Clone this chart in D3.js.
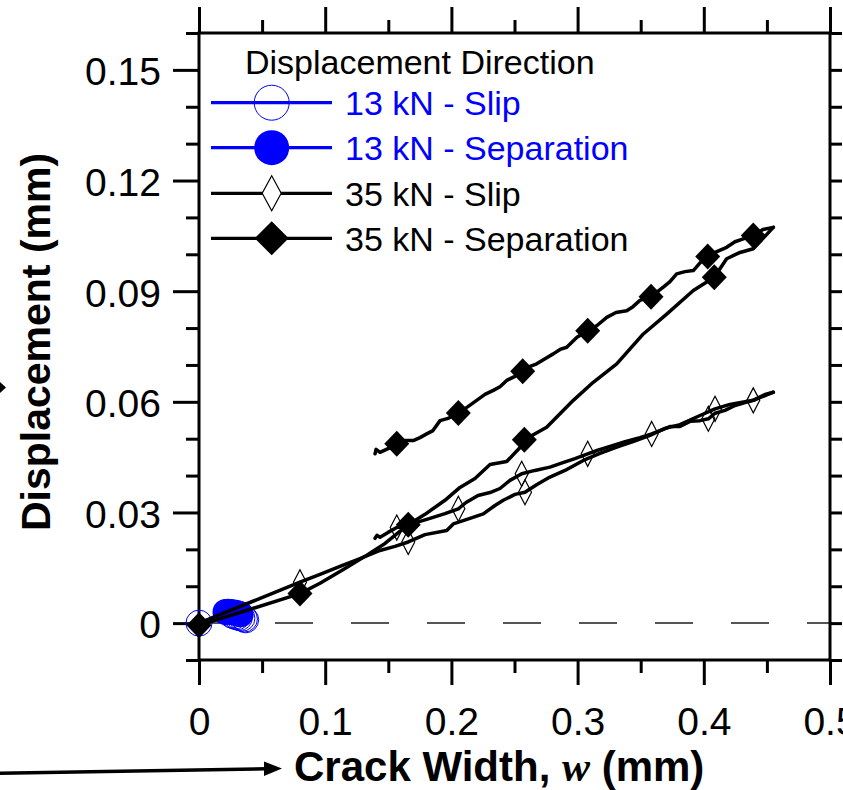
<!DOCTYPE html>
<html><head><meta charset="utf-8">
<script src="https://cdn.jsdelivr.net/npm/d3@7"></script>
<style>body{margin:0;background:#fff} svg{display:block}</style>
</head><body><svg id="c" width="843" height="790"></svg>
<script>
// ---------- tick values ----------
const xTickValues = [0, 0.1, 0.2, 0.3, 0.4, 0.5];
const xMinorTicks = [0.05, 0.15, 0.25, 0.35, 0.45];
const yTickValues = [0, 0.03, 0.06, 0.09, 0.12, 0.15];
const yMinorTicks = [-0.01, 0.01, 0.02, 0.04, 0.05, 0.07, 0.08, 0.10, 0.11, 0.13, 0.14, 0.16];
const yRightTicks = [-0.01, 0, 0.01, 0.02, 0.03, 0.04, 0.05, 0.06, 0.07, 0.08, 0.09, 0.10, 0.11, 0.12, 0.13, 0.14, 0.15, 0.16];

// ---------- legend ----------
const legendTitle = "Displacement Direction";
const legendLabels = ["13 kN - Slip", "13 kN - Separation", "35 kN - Slip", "35 kN - Separation"];

// ---------- data: [crack width w (mm), displacement (mm)] ----------
const slip13 = [[0, 0], [0.026, 0.0022], [0.028, 0.0019], [0.030, 0.0017], [0.032, 0.0015], [0.034, 0.0013], [0.036, 0.0011], [0.037, 0.0009]];
const sep13 = [[0, 0], [0.021, 0.0030], [0.023, 0.0031], [0.025, 0.0030], [0.027, 0.0029], [0.029, 0.0028], [0.031, 0.0026], [0.033, 0.0024]];

const slip35Load = [[0,0],[0.0800,0.0111],[0.0959,0.0132],[0.1117,0.0154],[0.1276,0.0175],[0.1434,0.0197],[0.1553,0.0208],[0.1658,0.0220],[0.1791,0.0240],[0.1963,0.0251],[0.2015,0.0269],[0.2147,0.0284],[0.2253,0.0296],[0.2345,0.0319],[0.2411,0.0333],[0.2504,0.0349],[0.2583,0.0355],[0.2678,0.0376],[0.2781,0.0396],[0.2900,0.0414],[0.3045,0.0441],[0.3177,0.0460],[0.3310,0.0477],[0.3439,0.0492],[0.3574,0.0509],[0.3693,0.0528],[0.3811,0.0538],[0.3970,0.0563],[0.4089,0.0581],[0.4207,0.0593],[0.4392,0.0604],[0.4485,0.0617],[0.4551,0.0626]];
const slip35Unload = [[0.4551,0.0626],[0.4485,0.0620],[0.4392,0.0604],[0.4326,0.0598],[0.4247,0.0590],[0.4168,0.0577],[0.4089,0.0569],[0.4036,0.0554],[0.3970,0.0549],[0.3891,0.0547],[0.3811,0.0533],[0.3732,0.0533],[0.3653,0.0522],[0.3587,0.0513],[0.3494,0.0503],[0.3376,0.0492],[0.3257,0.0479],[0.3154,0.0468],[0.3080,0.0459],[0.2979,0.0446],[0.2884,0.0435],[0.2781,0.0423],[0.2662,0.0414],[0.2557,0.0405],[0.2464,0.0387],[0.2385,0.0365],[0.2306,0.0354],[0.2211,0.0346],[0.2116,0.0327],[0.2055,0.0310],[0.1949,0.0297],[0.1830,0.0284],[0.1725,0.0273],[0.1632,0.0262],[0.1567,0.0259],[0.1498,0.0246],[0.1434,0.0233],[0.1410,0.0238],[0.1395,0.0230]];
const sep35Load = [[0,-0.0006],[0.0800,0.0080],[0.0959,0.0108],[0.1157,0.0148],[0.1315,0.0181],[0.1474,0.0216],[0.1658,0.0267],[0.1791,0.0295],[0.1949,0.0333],[0.2068,0.0368],[0.2187,0.0392],[0.2306,0.0430],[0.2438,0.0438],[0.2544,0.0476],[0.2578,0.0497],[0.2755,0.0531],[0.2966,0.0604],[0.3124,0.0653],[0.3310,0.0703],[0.3521,0.0784],[0.3706,0.0838],[0.3917,0.0902],[0.4083,0.0938],[0.4181,0.0988],[0.4287,0.1005],[0.4392,0.1015],[0.4551,0.1073]];
const sep35Unload = [[0.4551,0.1073],[0.4469,0.1067],[0.4392,0.1051],[0.4313,0.1042],[0.4247,0.1034],[0.4181,0.1019],[0.4089,0.1005],[0.4031,0.0994],[0.3970,0.0977],[0.3917,0.0956],[0.3851,0.0953],[0.3785,0.0947],[0.3732,0.0926],[0.3679,0.0911],[0.3582,0.0885],[0.3494,0.0875],[0.3439,0.0858],[0.3389,0.0847],[0.3304,0.0842],[0.3231,0.0829],[0.3154,0.0807],[0.3080,0.0793],[0.2995,0.0775],[0.2914,0.0748],[0.2861,0.0742],[0.2807,0.0730],[0.2742,0.0717],[0.2676,0.0703],[0.2623,0.0696],[0.2565,0.0683],[0.2504,0.0669],[0.2438,0.0658],[0.2385,0.0641],[0.2332,0.0631],[0.2266,0.0620],[0.2200,0.0604],[0.2131,0.0587],[0.2055,0.0570],[0.1973,0.0555],[0.1910,0.0549],[0.1854,0.0522],[0.1804,0.0513],[0.1751,0.0503],[0.1698,0.0495],[0.1632,0.0495],[0.1567,0.0486],[0.1498,0.0473],[0.1434,0.0463],[0.1403,0.0471],[0.1395,0.0459]];

// marker points
const slip35LoadMarks = [[0.0800,0.0111],[0.1658,0.0220],[0.2583,0.0355],[0.4089,0.0581]];
const slip35UnloadMarks = [[0.4392,0.0604],[0.4036,0.0554],[0.3587,0.0513],[0.3080,0.0459],[0.2557,0.0405],[0.2055,0.0310],[0.1567,0.0259]];
const sep35LoadMarks = [[0,-0.0006],[0.0800,0.0080],[0.1658,0.0267],[0.2578,0.0497],[0.4083,0.0938]];
const sep35UnloadMarks = [[0.4392,0.1051],[0.4031,0.0994],[0.3582,0.0885],[0.3080,0.0793],[0.2565,0.0683],[0.2055,0.0570],[0.1567,0.0486]];

// ---------- drawing ----------
const svg = d3.select("#c");
const FONT = "'Liberation Sans', Arial, Helvetica, sans-serif";
const BLUE = "#0000ff";
const L = 199, R = 830, T = 33, B = 660;
const x = d3.scaleLinear().domain([0, 0.5]).range([L, R]);
const y = d3.scaleLinear().domain([-0.01, 0.16]).range([B, T]);

// dashed zero line
svg.append("line").attr("x1", x(0)).attr("x2", x(0.5)).attr("y1", y(0)).attr("y2", y(0))
  .attr("stroke", "#555").attr("stroke-width", 2).attr("stroke-dasharray", "38,38");

function styleAxis(g, fs) {
  g.select(".domain").remove();
  g.selectAll("line").attr("stroke", "#000").attr("stroke-width", 3);
  g.selectAll("text").attr("font-family", FONT).attr("font-size", fs).attr("fill", "#000");
}
const fx = d => d === 0 ? "0" : d3.format(".1f")(d);
const fy = d => d === 0 ? "0" : d3.format(".2f")(d);

// bottom
svg.append("g").attr("transform", `translate(0,${B})`)
  .call(d3.axisBottom(x).tickValues(xTickValues).tickSize(25).tickPadding(22).tickFormat(fx))
  .call(g => styleAxis(g, 39));
svg.append("g").attr("transform", `translate(0,${B})`)
  .call(d3.axisBottom(x).tickValues(xMinorTicks).tickSize(13).tickFormat(""))
  .call(g => styleAxis(g, 39));
// top
svg.append("g").attr("transform", `translate(0,${T})`)
  .call(d3.axisTop(x).tickValues(xTickValues).tickSize(26).tickFormat(""))
  .call(g => styleAxis(g, 39));
svg.append("g").attr("transform", `translate(0,${T})`)
  .call(d3.axisTop(x).tickValues(xMinorTicks).tickSize(13).tickFormat(""))
  .call(g => styleAxis(g, 39));
// left
svg.append("g").attr("transform", `translate(${L},0)`)
  .call(d3.axisLeft(y).tickValues(yTickValues).tickSize(26).tickPadding(12).tickFormat(fy))
  .call(g => styleAxis(g, 39))
  .call(g => g.selectAll("text").attr("dy", "0.38em"));
svg.append("g").attr("transform", `translate(${L},0)`)
  .call(d3.axisLeft(y).tickValues(yMinorTicks).tickSize(13).tickFormat(""))
  .call(g => styleAxis(g, 39));
// right
svg.append("g").attr("transform", `translate(${R},0)`)
  .call(d3.axisRight(y).tickValues(yRightTicks).tickSize(12).tickFormat(""))
  .call(g => styleAxis(g, 39));

// frame
svg.append("rect").attr("x", L).attr("y", T).attr("width", R - L).attr("height", B - T)
  .attr("fill", "none").attr("stroke", "#000").attr("stroke-width", 3);

// axis titles
const xt = svg.append("text").attr("x", 294).attr("y", 781)
  .attr("font-family", FONT).attr("font-weight", "bold").attr("font-size", 42).attr("fill", "#000");
xt.append("tspan").text("Crack Width, ");
xt.append("tspan").attr("font-family", "'Liberation Serif', 'Times New Roman', serif").attr("font-style", "italic").text("w");
xt.append("tspan").text(" (mm)");

svg.append("text").attr("transform", "translate(49.5,342) rotate(-90)")
  .attr("text-anchor", "middle").attr("font-family", FONT).attr("font-weight", "bold")
  .attr("font-size", 41).attr("fill", "#000").text("Displacement (mm)");

// arrows outside
svg.append("line").attr("x1", 0).attr("y1", 773.3).attr("x2", 266).attr("y2", 768.8)
  .attr("stroke", "#000").attr("stroke-width", 3.5);
svg.append("polygon").attr("points", "264,761.5 282,768.5 264,776").attr("fill", "#000");
svg.append("polygon").attr("points", "0,382 6,387.5 0,393").attr("fill", "#000");

// marker helpers
function diamond(cx, cy, hw, hh) {
  return `M${cx},${cy - hh}L${cx + hw},${cy}L${cx},${cy + hh}L${cx - hw},${cy}Z`;
}
const line = d3.line().x(d => x(d[0])).y(d => y(d[1]));

// 13 kN blue
[slip13, sep13].forEach(s => {
  svg.append("path").attr("d", line(s)).attr("fill", "none").attr("stroke", BLUE).attr("stroke-width", 2);
});
svg.append("g").selectAll("circle").data(sep13.slice(1)).join("circle").attr("cx", d => x(d[0])).attr("cy", d => y(d[1]))
  .attr("r", 13).attr("fill", BLUE);
svg.append("g").selectAll("circle").data(slip13).join("circle").attr("cx", d => x(d[0])).attr("cy", d => y(d[1]))
  .attr("r", 13).attr("fill", "none").attr("stroke", BLUE).attr("stroke-width", 1);

// 35 kN black lines
[slip35Load, slip35Unload, sep35Load, sep35Unload].forEach(s => {
  svg.append("path").attr("d", line(s)).attr("fill", "none").attr("stroke", "#000")
    .attr("stroke-width", 3.5).attr("stroke-linejoin", "round").attr("stroke-linecap", "round");
});
// open diamonds
svg.append("g").selectAll("path").data(slip35LoadMarks.concat(slip35UnloadMarks)).join("path")
  .attr("d", d => diamond(x(d[0]), y(d[1]), 6.5, 12.5)).attr("fill", "none").attr("stroke", "#000").attr("stroke-width", 1.2);
// filled diamonds
svg.append("g").selectAll("path").data(sep35LoadMarks.concat(sep35UnloadMarks)).join("path")
  .attr("d", d => diamond(x(d[0]), y(d[1]), 12.5, 13)).attr("fill", "#000");

// legend
svg.append("text").attr("x", 245).attr("y", 74).attr("font-family", FONT).attr("font-size", 34)
  .attr("fill", "#000").text(legendTitle);
const rows = [102.7, 147.7, 193.3, 238.3];
const lx1 = 211, lx2 = 332, lm = 271.7;
legendLabels.forEach((lab, i) => {
  const cy = rows[i];
  const col = i < 2 ? BLUE : "#000";
  svg.append("line").attr("x1", lx1).attr("x2", lx2).attr("y1", cy).attr("y2", cy)
    .attr("stroke", col).attr("stroke-width", 3.3);
  if (i === 0) svg.append("circle").attr("cx", lm).attr("cy", cy).attr("r", 17.5).attr("fill", "none").attr("stroke", BLUE).attr("stroke-width", 1);
  if (i === 1) svg.append("circle").attr("cx", lm).attr("cy", cy).attr("r", 17.5).attr("fill", BLUE);
  if (i === 2) svg.append("path").attr("d", diamond(lm, cy, 9.5, 17.5)).attr("fill", "#fff").attr("stroke", "#000").attr("stroke-width", 1.2);
  if (i === 3) svg.append("path").attr("d", diamond(lm, cy, 17, 17)).attr("fill", "#000");
  svg.append("text").attr("x", 345).attr("y", cy + 12.3).attr("font-family", FONT).attr("font-size", 34)
    .attr("fill", col).text(lab);
});
</script>
</body></html>
